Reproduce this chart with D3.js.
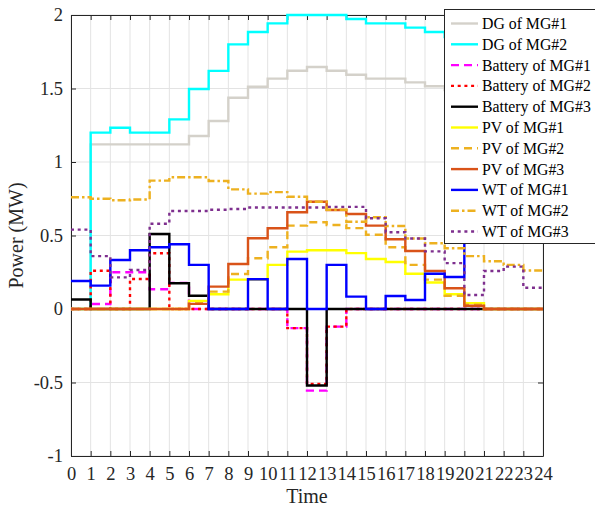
<!DOCTYPE html>
<html>
<head>
<meta charset="utf-8">
<script src="https://cdn.jsdelivr.net/npm/d3@7"></script>
<style>
  html, body { margin: 0; padding: 0; background: #fff; }
  svg { display: block; }
  svg text { font-family: "Liberation Serif", "Times New Roman", serif; }
</style>
</head>
<body>
<svg id="chart" width="595" height="508"></svg>
<script>
// Hourly power of each source (MW), one value per hour 0..23
const hours = d3.range(0, 24);
const dgMG1  = [0, 1.12, 1.12, 1.12, 1.12, 1.12, 1.177, 1.279, 1.437, 1.512, 1.567, 1.621, 1.646, 1.621, 1.594, 1.567, 1.567, 1.542, 1.515, 1.49, 1.45, 1.38, 1.30, 1.22];
const dgMG2  = [0, 1.20, 1.233, 1.20, 1.20, 1.29, 1.497, 1.62, 1.80, 1.884, 1.943, 2.0, 2.0, 2.0, 1.973, 1.943, 1.943, 1.914, 1.884, 1.85, 1.80, 1.70, 1.55, 1.40];
const batMG1 = [0, 0.034, 0.25, 0.25, 0.134, 0.178, 0, 0, 0, 0, 0, -0.13, -0.555, -0.12, 0, 0, 0, 0, 0, 0, 0, 0, 0, 0];
const batMG2 = [0, 0.26, 0, 0.204, 0.379, 0, 0, 0, 0, 0, 0, -0.13, -0.51, -0.12, 0, 0, 0, 0, 0, 0, 0, 0, 0, 0];
const batMG3 = [0.065, 0, 0, 0, 0.51, 0.175, 0.09, 0, 0, 0, 0, 0, -0.52, 0, 0, 0, 0, 0, 0, 0, 0, 0, 0, 0];
const pvMG1  = [0, 0, 0, 0, 0, 0, 0.055, 0.10, 0.20, 0.20, 0.30, 0.39, 0.40, 0.40, 0.38, 0.34, 0.32, 0.24, 0.18, 0.10, 0.04, 0, 0, 0];
const pvMG2  = [0, 0, 0, 0, 0, 0, 0.04, 0.118, 0.238, 0.345, 0.42, 0.567, 0.59, 0.571, 0.55, 0.505, 0.42, 0.30, 0.20, 0.09, 0.03, 0, 0, 0];
const pvMG3  = [0, 0, 0, 0, 0, 0, 0.035, 0.152, 0.306, 0.481, 0.549, 0.658, 0.73, 0.673, 0.646, 0.567, 0.474, 0.395, 0.259, 0.141, 0.022, 0, 0, 0];
const wtMG1  = [0.19, 0.159, 0.333, 0.40, 0.42, 0.44, 0.30, 0, 0, 0.202, 0, 0.34, 0, 0.30, 0.084, 0, 0.088, 0.061, 0.24, 0.218, 0.60, 0.62, 0.58, 0.55];
const wtMG2  = [0.76, 0.75, 0.74, 0.745, 0.873, 0.896, 0.896, 0.871, 0.814, 0.785, 0.795, 0.764, 0.73, 0.675, 0.594, 0.624, 0.565, 0.48, 0.447, 0.413, 0.36, 0.325, 0.30, 0.262];
const wtMG3  = [0.54, 0.36, 0.215, 0.265, 0.58, 0.667, 0.667, 0.675, 0.68, 0.69, 0.69, 0.69, 0.69, 0.695, 0.695, 0.617, 0.522, 0.48, 0.392, 0.312, 0.095, 0.258, 0.288, 0.145];

const seriesNames = ["DG of MG#1", "DG of MG#2", "Battery of MG#1", "Battery of MG#2", "Battery of MG#3",
                     "PV of MG#1", "PV of MG#2", "PV of MG#3", "WT of MG#1", "WT of MG#2", "WT of MG#3"];
const seriesValues = [dgMG1, dgMG2, batMG1, batMG2, batMG3, pvMG1, pvMG2, pvMG3, wtMG1, wtMG2, wtMG3];
const seriesColors = ["#d4d1ca", "#00ffff", "#ff00ff", "#ff0000", "#000000",
                      "#ffff00", "#edb120", "#d95319", "#0000ff", "#edb120", "#7e2f8e"];
const seriesDash = [null, null, "8,5", "3,3.7", null, null, "8,5", null, null, "8,3,2.5,3", "3,3.7"];

const xTicks = d3.range(0, 25);
const yTicks = [-1, -0.5, 0, 0.5, 1, 1.5, 2];

const FONT = "'Liberation Serif', 'Times New Roman', serif";
const svg = d3.select("#chart");
const m = { left: 71, right: 543, top: 15, bottom: 456 };

const x = d3.scaleLinear().domain([0, 24]).range([m.left, m.right]);
const y = d3.scaleLinear().domain([-1, 2]).range([m.bottom, m.top]);
const axisColor = "#262626";

// grid
const grid = svg.append("g");
grid.selectAll("line.gx").data(xTicks).join("line")
  .attr("x1", d => x(d)).attr("x2", d => x(d))
  .attr("y1", m.top).attr("y2", m.bottom)
  .attr("stroke", "#e3e3e3").attr("stroke-width", 1);
grid.selectAll("line.gy").data(yTicks).join("line")
  .attr("x1", m.left).attr("x2", m.right)
  .attr("y1", d => y(d)).attr("y2", d => y(d))
  .attr("stroke", "#e3e3e3").attr("stroke-width", 1);

// axes (ticks point inward, plain hyphen for negatives)
const fmtY = d => String(d);
const gB = svg.append("g").attr("transform", `translate(0,${m.bottom})`)
  .call(d3.axisBottom(x).tickValues(xTicks).tickSizeInner(-5).tickSizeOuter(0).tickPadding(11).tickFormat(d => String(d)));
const gT = svg.append("g").attr("transform", `translate(0,${m.top})`)
  .call(d3.axisTop(x).tickValues(xTicks).tickSizeInner(-5).tickSizeOuter(0).tickFormat(""));
const gL = svg.append("g").attr("transform", `translate(${m.left},0)`)
  .call(d3.axisLeft(y).tickValues(yTicks).tickSizeInner(-5).tickSizeOuter(0).tickPadding(8).tickFormat(fmtY));
const gR = svg.append("g").attr("transform", `translate(${m.right},0)`)
  .call(d3.axisRight(y).tickValues(yTicks).tickSizeInner(-5).tickSizeOuter(0).tickFormat(""));
[gB, gT, gL, gR].forEach(g => {
  g.attr("font-family", FONT).attr("font-size", 18.5);
  g.select(".domain").attr("stroke", axisColor).attr("stroke-width", 1);
  g.selectAll(".tick line").attr("stroke", axisColor);
  g.selectAll("text").attr("fill", "#262626");
});

// stair lines
const line = d3.line().x(d => x(d[0])).y(d => y(d[1])).curve(d3.curveStepAfter);
const linesG = svg.append("g");
seriesValues.forEach((vals, i) => {
  const pts = hours.map(h => [h, vals[h]]);
  pts.push([24, vals[23]]);
  linesG.append("path")
    .datum(pts)
    .attr("d", line)
    .attr("fill", "none")
    .attr("stroke", seriesColors[i])
    .attr("stroke-width", 2.4)
    .attr("stroke-dasharray", seriesDash[i]);
});

// axis titles
svg.append("text").attr("x", (m.left + m.right) / 2).attr("y", 503)
  .attr("text-anchor", "middle").attr("font-family", FONT).attr("font-size", 20).attr("fill", "#262626").text("Time");
svg.append("text").attr("transform", `translate(23,${(m.top + m.bottom) / 2}) rotate(-90)`)
  .attr("text-anchor", "middle").attr("font-family", FONT).attr("font-size", 20).attr("fill", "#262626").text("Power (MW)");

// legend
const lg = svg.append("g");
const lx = 444, ly = 9, lw = 160, lh = 234, rowH = 20.8;
lg.append("rect").attr("x", lx + 0.5).attr("y", ly + 0.5).attr("width", lw).attr("height", lh)
  .attr("fill", "#fff").attr("stroke", axisColor).attr("stroke-width", 1);
seriesNames.forEach((name, i) => {
  const cy = ly + 14.5 + i * rowH;
  lg.append("line").attr("x1", lx + 7).attr("x2", lx + 34).attr("y1", cy).attr("y2", cy)
    .attr("stroke", seriesColors[i]).attr("stroke-width", 2.4)
    .attr("stroke-dasharray", seriesDash[i]);
  lg.append("text").attr("x", lx + 38).attr("y", cy).attr("dy", "0.35em")
    .attr("font-family", FONT).attr("font-size", 15.8).attr("fill", "#000").text(name);
});
</script>
</body>
</html>
